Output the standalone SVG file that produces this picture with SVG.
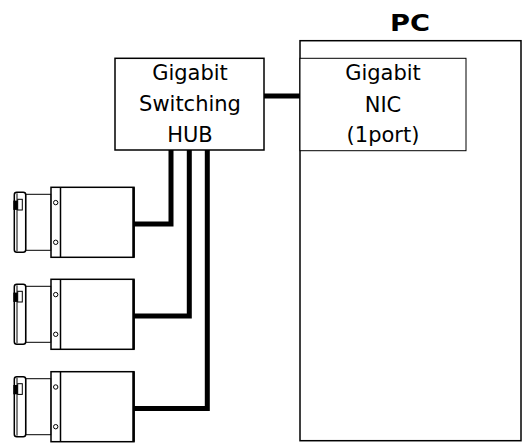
<svg xmlns="http://www.w3.org/2000/svg" width="526" height="445" viewBox="0 0 526 445">
<style>
.box{fill:#fff;stroke:#000;stroke-width:1.5}
.thin{fill:#fff;stroke:#000;stroke-width:1}
.wire{fill:none;stroke:#000;stroke-width:5;stroke-linejoin:miter;stroke-linecap:square}
.t{font-family:"DejaVu Sans","Noto Sans CJK JP",sans-serif;font-size:21px;text-anchor:middle;fill:#000}
.pc{font-family:"DejaVu Sans","Noto Sans CJK JP",sans-serif;font-size:23px;font-weight:bold;text-anchor:middle;fill:#000}
</style>
<defs>
<g id="cam">
<rect x="51" y="0" width="83" height="70" class="box"/>
<line x1="60.5" y1="0" x2="60.5" y2="70" stroke="#000" stroke-width="1.5"/>
<line x1="133.5" y1="0" x2="133.5" y2="70" stroke="#000" stroke-width="2.5"/>
<circle cx="55.7" cy="15.3" r="2.2" fill="#fff" stroke="#000" stroke-width="1"/>
<circle cx="55.7" cy="55" r="2.2" fill="#fff" stroke="#000" stroke-width="1"/>
<rect x="25.7" y="7" width="25" height="56" class="thin"/>
<rect x="14.3" y="5" width="11.4" height="60" rx="2.5" class="box"/>
<line x1="17" y1="6" x2="17" y2="64" stroke="#000" stroke-width="1"/>
<rect x="17.7" y="12" width="4.6" height="10.7" class="thin"/>
<rect x="13.3" y="13.3" width="4.4" height="9.3" fill="#000"/>
</g>
</defs>
<g id="connectors">
<line x1="264" y1="96" x2="300" y2="96" class="wire"/>
<polyline points="171,152 171,224 135,224" class="wire"/>
<polyline points="189.3,152 189.3,316 135,316" class="wire"/>
<polyline points="207.3,152 207.3,408.5 135,408.5" class="wire"/>
</g>
<g id="pc">
<rect x="300" y="40.7" width="221" height="400" class="box"/>
<text x="410" y="31" class="pc" textLength="40" lengthAdjust="spacingAndGlyphs">PC</text>
</g>
<g id="nic">
<rect x="300" y="58.3" width="166" height="92.4" class="thin"/>
<text x="383" y="80" class="t">Gigabit</text>
<text x="383" y="112" class="t">NIC</text>
<text x="383" y="142" class="t">(1port)</text>
</g>
<g id="hub">
<rect x="115" y="58.3" width="149" height="91.7" class="box"/>
<text x="190" y="80" class="t">Gigabit</text>
<text x="190" y="111" class="t">Switching</text>
<text x="190" y="142" class="t">HUB</text>
</g>
<g id="camera1"><use href="#cam" transform="translate(0,187.3)"/></g>
<g id="camera2"><use href="#cam" transform="translate(0,279.3)"/></g>
<g id="camera3"><use href="#cam" transform="translate(0,371.7)"/></g>
</svg>
